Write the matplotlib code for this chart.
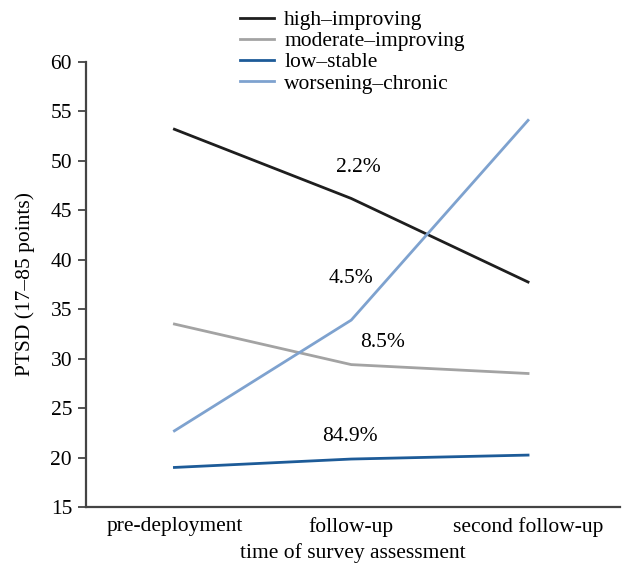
import matplotlib
matplotlib.use("Agg")
import matplotlib.pyplot as plt

categories = ["pre-deployment", "follow-up", "second follow-up"]
series_names = ["high\u2013improving", "moderate\u2013improving", "low\u2013stable", "worsening\u2013chronic"]
high_improving = [53.2, 46.2, 37.75]
moderate_improving = [33.5, 29.4, 28.5]
low_stable = [19.0, 19.85, 20.25]
worsening_chronic = [22.7, 33.9, 54.1]
colors = ["#1e1e1e", "#a3a3a3", "#1d5b98", "#7ea2cf"]
pct_labels = ["2.2%", "4.5%", "8.5%", "84.9%"]
pct_pos = [(1.04, 49.3), (1.0, 38.1), (1.18, 31.6), (0.99, 22.1)]
yticks = [15, 20, 25, 30, 35, 40, 45, 50, 55, 60]

plt.rcParams['font.family'] = ['Liberation Serif', 'DejaVu Serif']
FS = 15.5

fig = plt.figure(figsize=(6.27, 5.67), dpi=100)
ax = fig.add_axes([86/627, 60/567, (620-86)/627, (507-62)/567])

x = list(range(len(categories)))
all_series = [high_improving, moderate_improving, low_stable, worsening_chronic]
for vals, name, c in zip(all_series, series_names, colors):
    ax.plot(x, vals, color=c, lw=2, label=name)

for t, (px, py) in zip(pct_labels, pct_pos):
    ax.text(px, py, t, ha="center", va="center", fontsize=FS)

ax.set_xlim(-0.5, 2.52)
ax.set_ylim(15, 60)
ax.set_yticks(yticks)
ax.set_xticks(x)
ax.set_xticklabels(categories)
ax.tick_params(axis='x', length=0, labelsize=FS, pad=7)
ax.tick_params(axis='y', length=6, width=1.3, labelsize=FS, color="#444444", pad=4)
for s in ["top", "right"]:
    ax.spines[s].set_visible(False)
for s in ["left", "bottom"]:
    ax.spines[s].set_linewidth(1.6)
    ax.spines[s].set_color("#444444")
ax.set_xlabel("time of survey assessment", fontsize=FS, labelpad=5)
ax.set_ylabel("PTSD (17\u201385 points)", fontsize=FS, labelpad=11)

leg = ax.legend(loc="upper left", bbox_to_anchor=(240/627, 1 - 10/567), bbox_transform=fig.transFigure,
                frameon=False, fontsize=FS, handlelength=1.6, handletextpad=0.45,
                labelspacing=0.05, borderaxespad=0.0, borderpad=0.0)

fig.savefig("out.png", dpi=100)
